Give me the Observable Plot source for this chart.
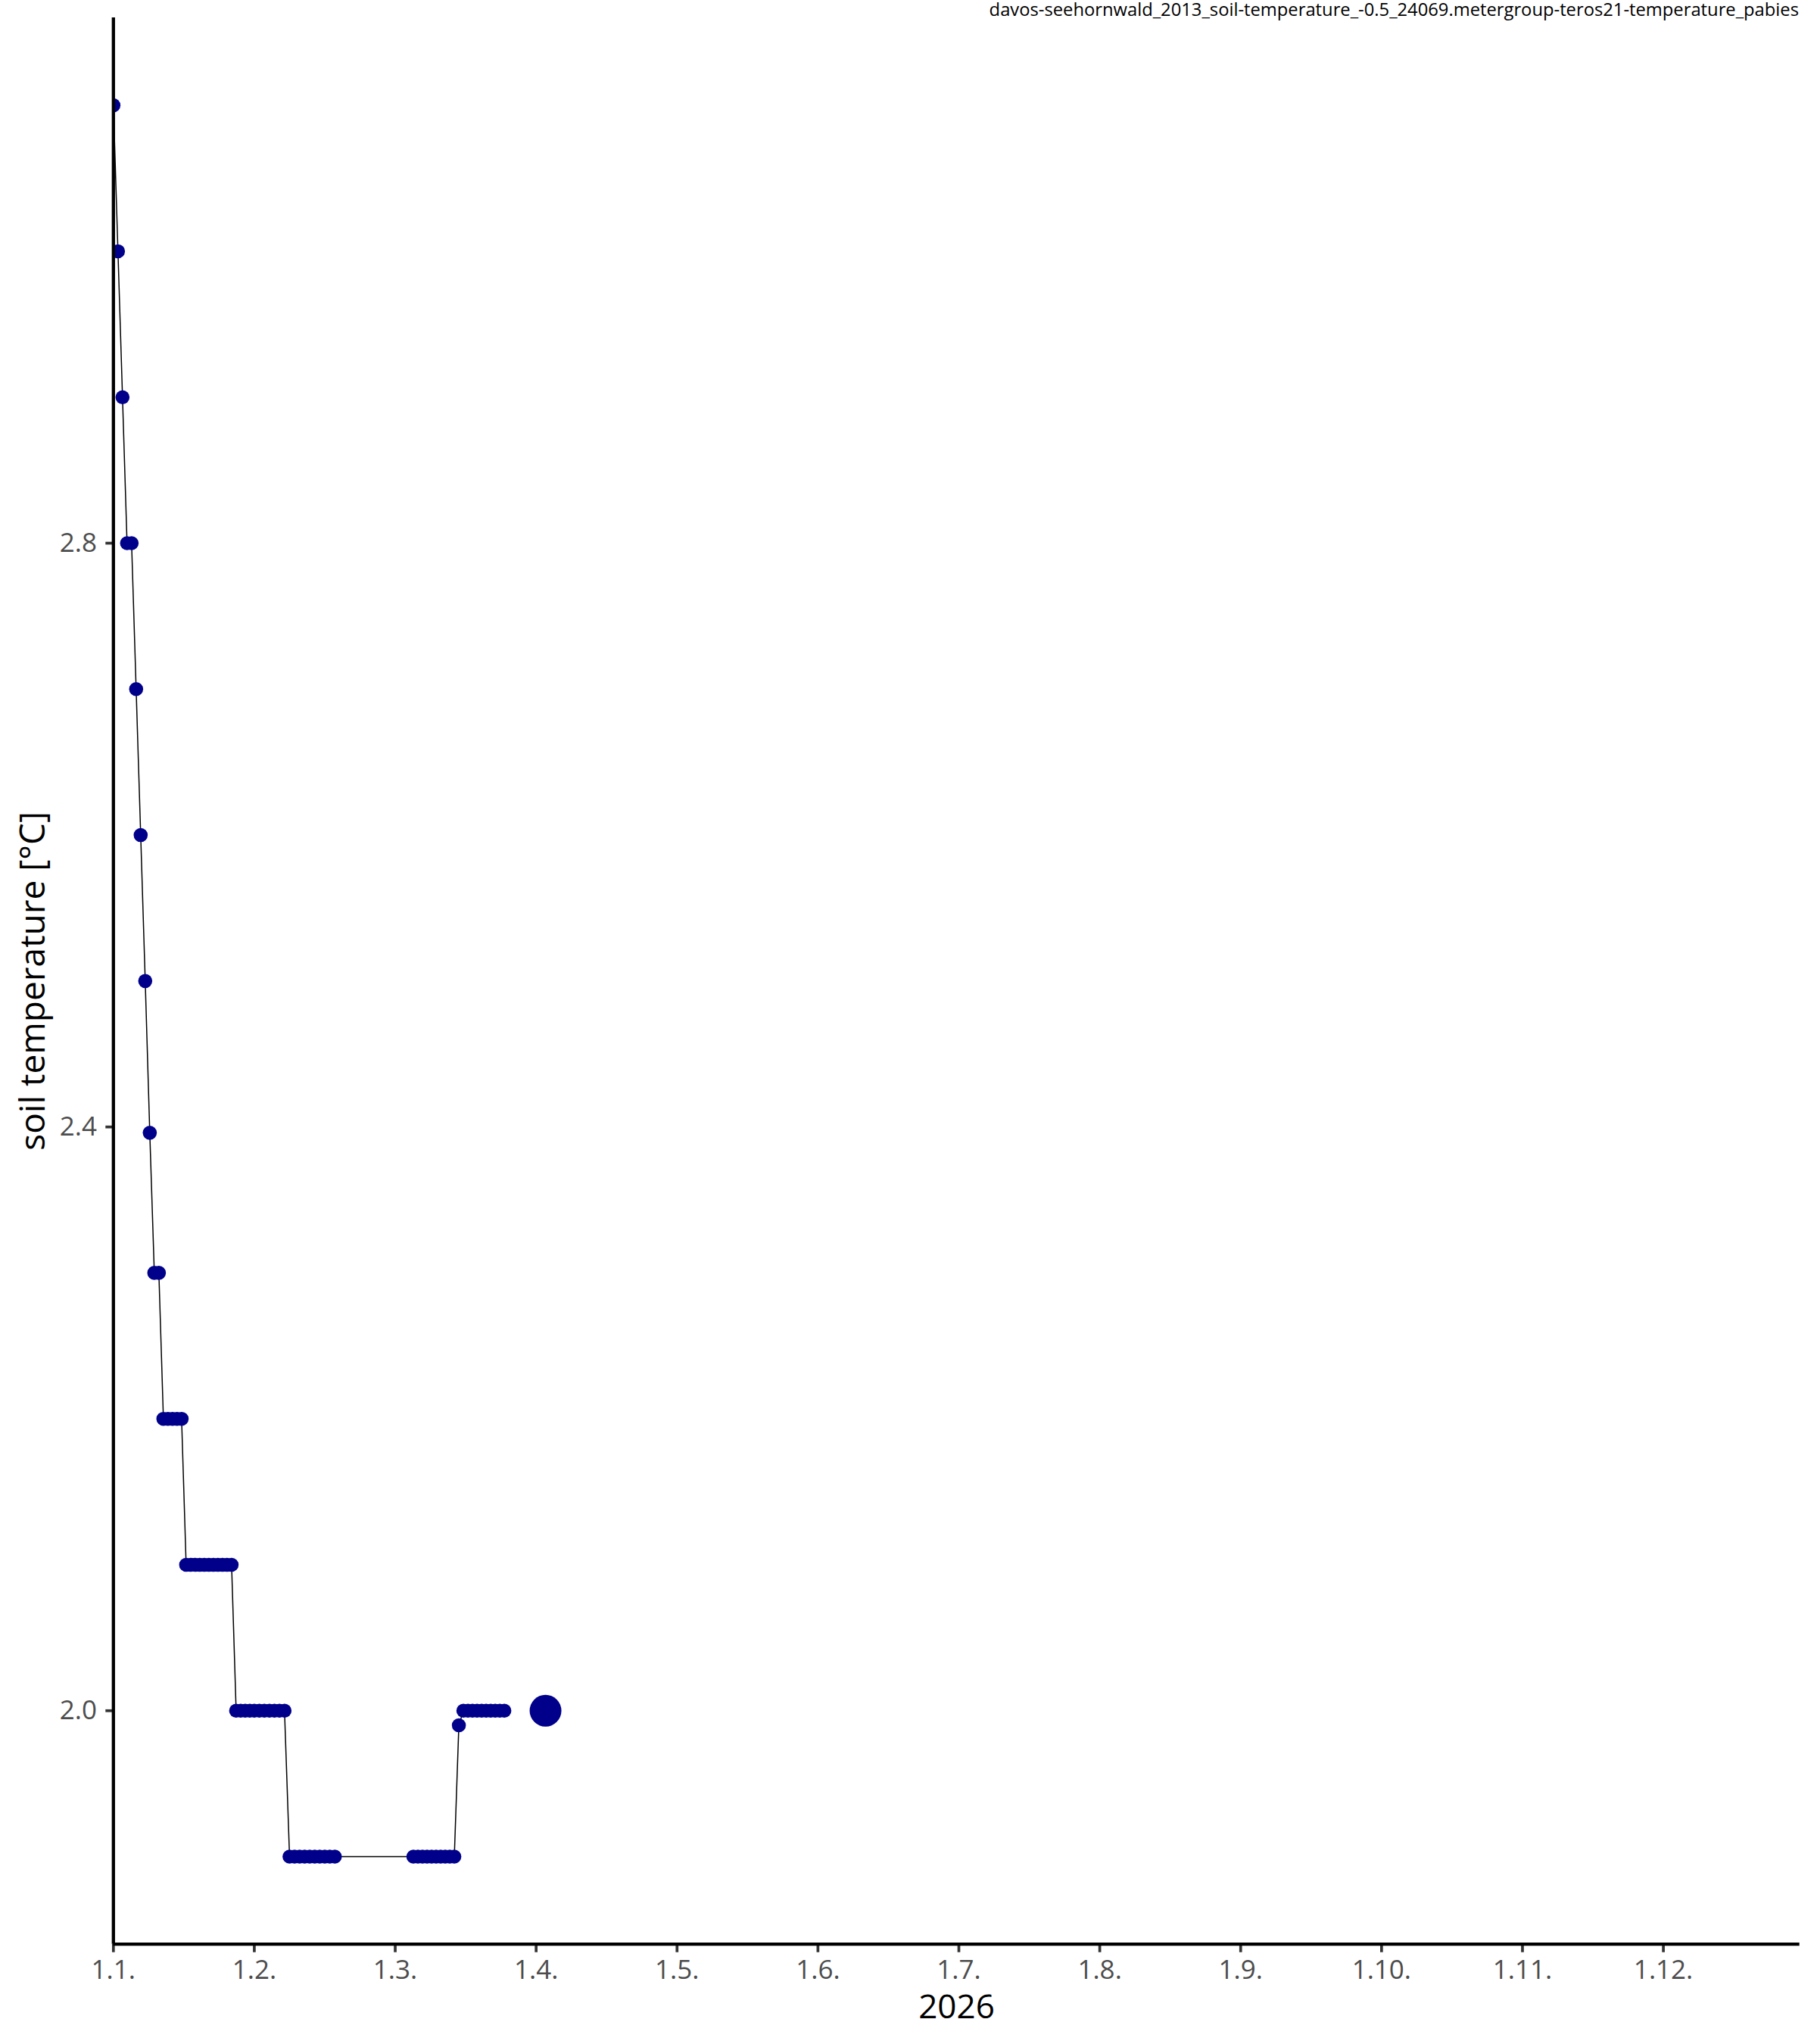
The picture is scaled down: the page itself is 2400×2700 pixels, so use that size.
<!DOCTYPE html>
<html>
<head>
<meta charset="utf-8">
<script src="https://cdn.jsdelivr.net/npm/d3@7"></script>
<script src="https://cdn.jsdelivr.net/npm/@observablehq/plot@0.6"></script>
<style>
  html, body { margin: 0; padding: 0; background: #fff; }
  #wrap { position: relative; width: 2400px; height: 2700px; }
  #title { position: absolute; right: 24px; top: 1px; font-family: "Open Sans", sans-serif; font-size: 23.75px; line-height: 1; color: #000; white-space: nowrap; }
</style>
</head>
<body>
<div id="wrap"><div id="title"></div></div>
<script>
// ---- data ----
const titleText = "davos-seehornwald_2013_soil-temperature_-0.5_24069.metergroup-teros21-temperature_pabies";
const yLabel = "soil temperature [°C]";
const xLabel = "2026";

const dates = [
  "2026-01-01","2026-01-02","2026-01-03","2026-01-04","2026-01-05","2026-01-06","2026-01-07","2026-01-08","2026-01-09",
  "2026-01-10","2026-01-11",
  "2026-01-12","2026-01-13","2026-01-14","2026-01-15","2026-01-16",
  "2026-01-17","2026-01-18","2026-01-19","2026-01-20","2026-01-21","2026-01-22","2026-01-23","2026-01-24","2026-01-25","2026-01-26","2026-01-27",
  "2026-01-28","2026-01-29","2026-01-30","2026-01-31","2026-02-01","2026-02-02","2026-02-03","2026-02-04","2026-02-05","2026-02-06","2026-02-07",
  "2026-02-08","2026-02-09","2026-02-10","2026-02-11","2026-02-12","2026-02-13","2026-02-14","2026-02-15","2026-02-16","2026-02-17",
  "2026-03-05","2026-03-06","2026-03-07","2026-03-08","2026-03-09","2026-03-10","2026-03-11","2026-03-12","2026-03-13","2026-03-14",
  "2026-03-15",
  "2026-03-16","2026-03-17","2026-03-18","2026-03-19","2026-03-20","2026-03-21","2026-03-22","2026-03-23","2026-03-24","2026-03-25"
];
const temps = [
  3.1, 3.0, 2.9, 2.8, 2.8, 2.7, 2.6, 2.5, 2.396,
  2.3, 2.3,
  2.2, 2.2, 2.2, 2.2, 2.2,
  2.1, 2.1, 2.1, 2.1, 2.1, 2.1, 2.1, 2.1, 2.1, 2.1, 2.1,
  2.0, 2.0, 2.0, 2.0, 2.0, 2.0, 2.0, 2.0, 2.0, 2.0, 2.0,
  1.9, 1.9, 1.9, 1.9, 1.9, 1.9, 1.9, 1.9, 1.9, 1.9,
  1.9, 1.9, 1.9, 1.9, 1.9, 1.9, 1.9, 1.9, 1.9, 1.9,
  1.99,
  2.0, 2.0, 2.0, 2.0, 2.0, 2.0, 2.0, 2.0, 2.0, 2.0
];
const latestDates = ["2026-04-03"];
const latestTemps = [2.0];

const monthTicks = [1, 2, 3, 4, 5, 6, 7, 8, 9, 10, 11, 12];
const monthLabels = ["1.1.", "1.2.", "1.3.", "1.4.", "1.5.", "1.6.", "1.7.", "1.8.", "1.9.", "1.10.", "1.11.", "1.12."];
const yTicks = [2.0, 2.4, 2.8];

// ---- helpers: position of a date on the month axis (month + fraction of month) ----
function monthPos(s) {
  const [yy, mm, dd] = s.split("-").map(Number);
  const dim = new Date(Date.UTC(yy, mm, 0)).getUTCDate();
  return mm + (dd - 1) / dim;
}
const series = dates.map((d, i) => ({pos: monthPos(d), temp: temps[i]}));
const latest = latestDates.map((d, i) => ({pos: monthPos(d), temp: latestTemps[i]}));

const xDomain = [1, 12 + 30 / 31];
const yDomain = [1.84, 3.16];

document.getElementById("title").textContent = titleText;

const chart = Plot.plot({
  width: 2400,
  height: 2700,
  marginLeft: 149.3,
  marginRight: 23.3,
  marginTop: 23,
  marginBottom: 132.3,
  style: {fontFamily: "'Open Sans', sans-serif", background: "#fff", overflow: "visible"},
  x: {type: "linear", domain: xDomain},
  y: {type: "linear", domain: yDomain},
  marks: [
    Plot.line(series, {x: "pos", y: "temp", stroke: "black", strokeWidth: 1.5, clip: true}),
    Plot.dot(series, {x: "pos", y: "temp", r: 9.3, fill: "#00008B", stroke: "none", clip: true}),
    Plot.dot(latest, {x: "pos", y: "temp", r: 21, fill: "#00008B", stroke: "none", clip: true}),
    Plot.axisX({
      ticks: monthTicks,
      tickFormat: d => monthLabels[monthTicks.indexOf(d)],
      tickSize: 11, tickPadding: 9.6, fontSize: 35,
      stroke: "#333333", strokeWidth: 3.7, fill: "#4D4D4D", label: null
    }),
    Plot.axisY({
      ticks: yTicks,
      tickFormat: d => d.toFixed(1),
      tickSize: 10, tickPadding: 11.8, fontSize: 35,
      stroke: "#333333", strokeWidth: 3.7, fill: "#4D4D4D", label: null
    }),
    Plot.ruleX([xDomain[0]], {stroke: "black", strokeWidth: 4.3}),
    Plot.ruleY([yDomain[0]], {stroke: "black", strokeWidth: 4.3}),
    Plot.text([yLabel], {text: d => d, frameAnchor: "left", textAnchor: "middle", rotate: -90, dx: -105.8, fontSize: 46, fill: "black"}),
    Plot.text([xLabel], {text: d => d, frameAnchor: "bottom", textAnchor: "middle", lineAnchor: "bottom", dy: 97.3, fontSize: 44, fill: "black"})
  ]
});
document.getElementById("wrap").appendChild(chart);
</script>
</body>
</html>
